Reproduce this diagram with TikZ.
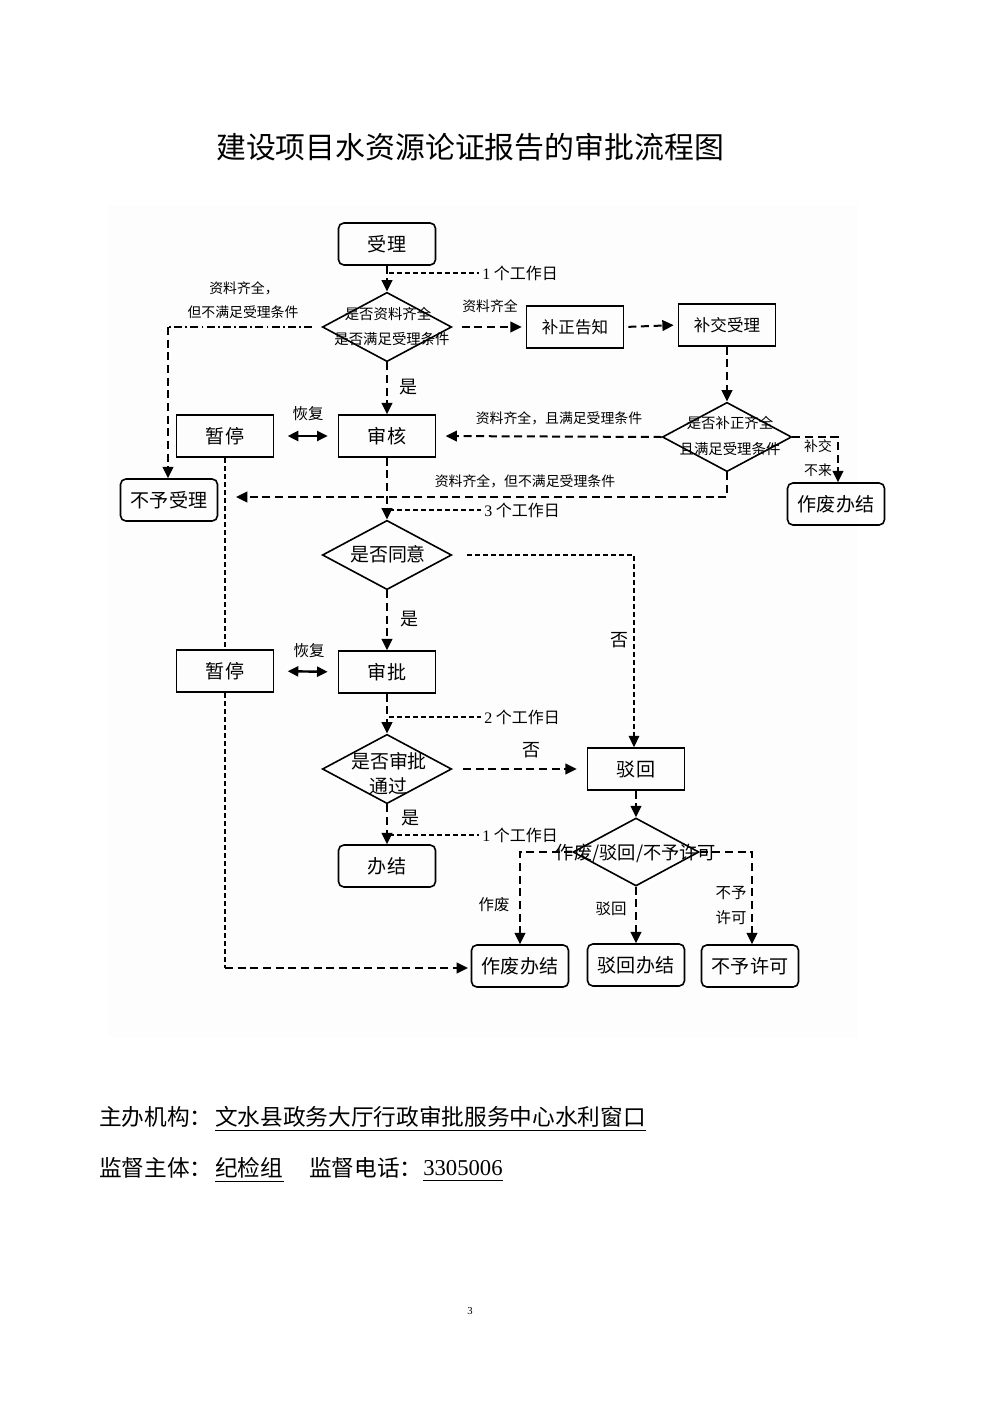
\documentclass[tikz,border=0pt]{standalone}
\usepackage{fontspec}
\setmainfont{Liberation Serif}
\newfontfamily\cjk{Noto Sans CJK SC}
\usetikzlibrary{shapes.geometric,arrows.meta}
\newcommand{\fs}[1]{\fontsize{#1}{#1}\selectfont}
\begin{document}
\begin{tikzpicture}[x=0.75pt,y=-0.75pt,
  arr/.style={-{Triangle[length=8.5pt,width=8pt]}},
  boxn/.style={draw, line width=1.2pt, minimum width=72.75pt, minimum height=31.5pt, inner sep=0pt, font=\cjk\fs{14.3pt}},
  rboxn/.style={boxn, rounded corners=4pt},
  dian/.style={draw, diamond, line width=1.2pt, minimum width=97pt, minimum height=52pt, inner sep=0pt},
  dtext/.style={inner sep=0pt, font=\cjk\fs{10.8pt}},
  dbig/.style={inner sep=0pt, font=\cjk\fs{14.2pt}},
  lab/.style={inner sep=0pt, font=\cjk\fs{10.4pt}},
  labm/.style={inner sep=0pt, font=\cjk\fs{11.6pt}},
  labb/.style={inner sep=0pt, font=\cjk\fs{13.5pt}},
  wd/.style={inner sep=0pt, anchor=west, font=\cjk\fs{12pt}},
  flow/.style={line width=1.5pt, dash pattern=on 6pt off 3.5pt, arr},
  thindash/.style={line width=0.8pt, dash pattern=on 3.75pt off 2.25pt},
  dashdot/.style={line width=0.8pt, dash pattern=on 6pt off 2.5pt on 1.2pt off 2.5pt},
  biarr/.style={line width=1.8pt, {Triangle[length=8pt,width=7.5pt]}-{Triangle[length=8pt,width=7.5pt]}},
  foot/.style={inner sep=0pt, anchor=west, font=\cjk\fs{17pt}},
]
\useasboundingbox (0,0) rectangle (992,1403);
\fill[black!0.8] (108,205) rectangle (858,1037);

% title
\node[inner sep=0pt, font=\cjk\fs{22.4pt}] (title) at (470,147) {建设项目水资源论证报告的审批流程图};

% nodes
\node[rboxn] (sl) at (387,244) {受理};
\node[dian] (d1) at (387,327) {};
\node[dtext] (d1a) at (388,314) {是否资料齐全};
\node[dtext] (d1b) at (392,339) {是否满足受理条件};
\node[boxn, font=\cjk\fs{12.4pt}] (bzgz) at (575,327) {补正告知};
\node[boxn, font=\cjk\fs{12.4pt}] (bjsl) at (727,325) {补交受理};
\node[dian] (d2) at (727,437) {};
\node[dtext] (d2a) at (730,423) {是否补正齐全};
\node[dtext] (d2b) at (730,449) {且满足受理条件};
\node[boxn] (sh) at (387,436) {审核};
\node[boxn] (zt1) at (225,436) {暂停};
\node[rboxn] (bysl) at (169,500) {不予受理};
\node[rboxn] (zfbj1) at (836,504) {作废办结};
\node[dian] (d3) at (387,555) {};
\node[dbig] (d3t) at (388,554) {是否同意};
\node[boxn] (sp) at (387,672) {审批};
\node[boxn] (zt2) at (225,671) {暂停};
\node[dian] (d4) at (387,769) {};
\node[dbig] (d4a) at (389,761) {是否审批};
\node[dbig] (d4b) at (388,786) {通过};
\node[boxn] (bh) at (636,769) {驳回};
\node[rboxn] (bj) at (387,866) {办结};
\node[dian, minimum width=94.5pt, minimum height=51pt] (d5) at (636,852) {};
\node[inner sep=0pt, font=\cjk\fs{13.7pt}] (d5t) at (636,853) {作废/驳回/不予许可};
\node[rboxn] (zfbj2) at (520,966) {作废办结};
\node[rboxn] (bhbj) at (636,965) {驳回办结};
\node[rboxn] (byxk) at (750,966) {不予许可};

% working-day labels
\coordinate (c1) at (389,273);
\node[wd] (w1) at (482,273) {{\rmfamily 1} 个工作日};
\draw[thindash, shorten >=2pt] (c1) -- (w1.west);
\coordinate (c5) at (389,510);
\node[wd] (w2) at (484,510) {{\rmfamily 3} 个工作日};
\draw[thindash, shorten >=2pt] (c5) -- (w2.west);
\coordinate (c6) at (389,717);
\node[wd] (w3) at (484,717) {{\rmfamily 2} 个工作日};
\draw[thindash, shorten >=2pt] (c6) -- (w3.west);
\coordinate (c7) at (389,835);
\node[wd] (w4) at (482,835) {{\rmfamily 1} 个工作日};
\draw[thindash, shorten >=2pt] (c7) -- (w4.west);

% connectors
\draw[flow] (sl.south) -- (d1.north);
\draw[flow, shorten <=7pt, shorten >=3pt] (d1.east) -- (bzgz.west);
\node[lab] (l1) at (490,306) {资料齐全};
\draw[flow, shorten <=3pt, shorten >=3pt] (bzgz.east) -- (bjsl.west);
\draw[flow] (bjsl.south) -- (d2.north);
\draw[flow, shorten >=7pt] (d2.west) -- (sh.east);
\node[lab] (l2) at (559,418) {资料齐全，且满足受理条件};
\draw[flow] (d2.east) -| ([xshift=1.5pt]zfbj1.north);
\node[lab] (l3) at (818,446) {补交};
\node[lab] (l4) at (818,470) {不来};
\coordinate (c2) at (236,497);
\draw[flow] (d2.south) |- (c2);
\node[lab] (l5) at (525,481) {资料齐全，但不满足受理条件};
\coordinate (c3) at (168,327);
\draw[dashdot, shorten <=7pt] (d1.west) -- (c3);
\draw[flow] (c3) -- (c3 |- bysl.north);
\node[lab] (l6) at (244,288) {资料齐全，};
\node[lab] (l7) at (243,312) {但不满足受理条件};

\draw[flow] (d1.south) -- (sh.north);
\node[labb] (y1) at (408,387) {是};
\draw[biarr, shorten <=10pt, shorten >=7.5pt] (zt1.east) -- (sh.west);
\node[labm] (h1) at (308,414) {恢复};

\draw[thindash] (zt1.south) -- (zt2.north);
\coordinate (c4) at (225,968);
\draw[thindash] (zt2.south) -- (c4);
\draw[flow, shorten >=2pt] (c4) -- (c4 -| zfbj2.west);

\draw[flow] (sh.south) -- (d3.north);
\draw[thindash, arr, shorten <=11pt] (d3.east) -| ([xshift=-1.5pt]bh.north);
\node[labb] (n1) at (619,640) {否};
\draw[flow] (d3.south) -- (sp.north);
\node[labb] (y2) at (409,619) {是};
\draw[biarr, shorten <=10pt, shorten >=7.5pt] (zt2.east) -- (sp.west);
\node[labm] (h2) at (309,651) {恢复};

\draw[flow] (sp.south) -- (d4.north);
\draw[flow, shorten <=8pt, shorten >=7.5pt] (d4.east) -- (bh.west);
\node[labb] (n2) at (531,750) {否};
\draw[flow] (d4.south) -- (bj.north);
\node[labb] (y3) at (410,818) {是};

\draw[flow] (bh.south) -- (d5.north);
\draw[flow] (d5.west) -| (zfbj2.north);
\node[labm] (l8) at (494,905) {作废};
\draw[flow] (d5.south) -- (bhbj.north);
\node[labm] (l9) at (611,909) {驳回};
\draw[flow] (d5.east) -| ([xshift=1.5pt]byxk.north);
\node[labm] (l10) at (731,893) {不予};
\node[labm] (l11) at (731,918) {许可};

% footer
\node[foot] (f1) at (99,1117) {主办机构：};
\node[foot] (f2) at (215,1117) {文水县政务大厅行政审批服务中心水利窗口};
\draw[line width=0.8pt] ([yshift=-3.5pt]f2.base west) -- ([yshift=-3.5pt]f2.base east);
\node[foot] (f3) at (99,1168) {监督主体：};
\node[foot] (f4) at (215,1168) {纪检组};
\draw[line width=0.8pt] ([yshift=-3.5pt]f4.base west) -- ([yshift=-3.5pt]f4.base east);
\node[foot] (f5) at (309,1168) {监督电话：};
\node[foot, font=\rmfamily\fs{17pt}] (f6) at (423,1168) {3305006};
\draw[line width=0.8pt] ([yshift=-3.5pt]f6.base west) -- ([yshift=-3.5pt]f6.base east);

\node[inner sep=0pt, font=\rmfamily\fs{8pt}] (pg) at (470,1311) {3};
\end{tikzpicture}
\end{document}
